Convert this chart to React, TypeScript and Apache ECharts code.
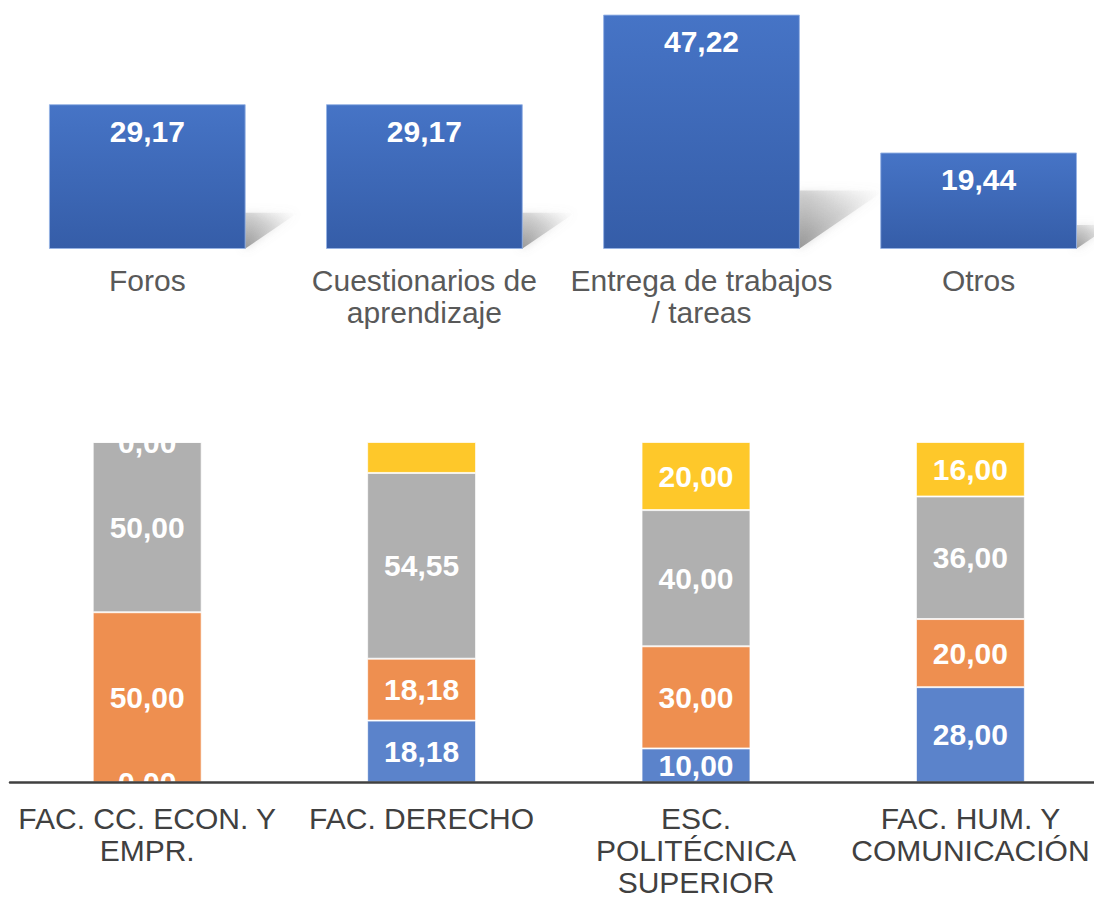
import React, { useEffect, useRef } from "react";
import * as echarts from "echarts";

// ---- Top chart data ----
const TOP_CATEGORIES = ["Foros", "Cuestionarios de\naprendizaje", "Entrega de trabajos\n/ tareas", "Otros"];
const TOP_VALUES = [29.17, 29.17, 47.22, 19.44];

// ---- Bottom chart data ----
const FACULTIES = ["FAC. CC. ECON. Y\nEMPR.", "FAC. DERECHO", "ESC.\nPOLITÉCNICA\nSUPERIOR", "FAC. HUM. Y\nCOMUNICACIÓN"];
const SEG_BLUE = [0, 18.18, 10, 28];
const SEG_ORANGE = [50, 18.18, 30, 20];
const SEG_GRAY = [50, 54.55, 40, 36];
const SEG_YELLOW = [0, 9.09, 20, 16];
const YELLOW_LABEL_SHOWN = [true, false, true, true];

const FONT = "'Liberation Sans', Arial, Helvetica, sans-serif";
const fmt = (v: number) => v.toFixed(2).replace(".", ",");

const TOP_BAR_RATIO = 0.71;
const BOTTOM_BAR_RATIO = 0.397;

export default function App() {
  const ref = useRef<HTMLDivElement>(null);

  useEffect(() => {
    if (!ref.current) return;
    const chart = echarts.init(ref.current, undefined, { renderer: "svg" });

    const segLabel = {
      show: true,
      position: "inside" as const,
      color: "#ffffff",
      fontFamily: FONT,
      fontSize: 30,
      fontWeight: "bold" as const,
      formatter: (p: any) => fmt(p.value),
    };
    const segItem = (color: string) => ({
      color,
      borderColor: "rgba(255,255,255,0.7)",
      borderWidth: 1,
    });

    const option: any = {
      animation: false,
      backgroundColor: "#ffffff",
      grid: [
        { left: 8.75, top: 0.8, width: 1108.4, height: 248.2, outerBoundsMode: "none", containLabel: false },
        { left: 10, top: 442, width: 1097.6, height: 340.5, outerBoundsMode: "none", containLabel: false },
      ],
      xAxis: [
        {
          type: "category",
          gridIndex: 0,
          data: TOP_CATEGORIES,
          axisLine: { show: false },
          axisTick: { show: false },
          splitLine: { show: false },
          axisLabel: {
            interval: 0,
            color: "#595959",
            fontFamily: FONT,
            fontSize: 30,
            lineHeight: 32,
            margin: 15,
          },
        },
        {
          type: "category",
          gridIndex: 1,
          data: FACULTIES,
          z: 20,
          axisLine: { show: true, lineStyle: { color: "#404040", width: 2.5 } },
          axisTick: { show: false },
          splitLine: { show: false },
          axisLabel: {
            interval: 0,
            color: "#404040",
            fontFamily: FONT,
            fontSize: 30,
            lineHeight: 32,
            margin: 19.5,
          },
        },
      ],
      yAxis: [
        { type: "value", gridIndex: 0, min: 0, max: 50, show: false },
        { type: "value", gridIndex: 1, min: 0, max: 100, show: false },
      ],
      series: [
        // Perspective shadow behind top bars
        {
          type: "custom",
          xAxisIndex: 0,
          yAxisIndex: 0,
          z: 1,
          silent: true,
          data: TOP_VALUES.map((v, i) => [i, v]),
          encode: { x: 0, y: 1 },
          renderItem: (params: any, api: any) => {
            const idx = api.value(0);
            const base = api.coord([idx, 0]);
            const top = api.coord([idx, api.value(1)]);
            const bw = api.size([1, 0])[0] * TOP_BAR_RATIO;
            const xr = base[0] + bw / 2;
            const h = base[1] - top[1];
            const dx = h * 0.36;
            const dy = h * 0.25;
            return {
              type: "polygon",
              shape: {
                points: [
                  [xr - 1, base[1]],
                  [xr + dx, base[1] - dy],
                  [xr - 1, base[1] - dy],
                ],
              },
              style: {
                fill: new echarts.graphic.LinearGradient(0, 1, 1, 0, [
                  { offset: 0, color: "rgba(120,120,120,0.75)" },
                  { offset: 0.55, color: "rgba(170,170,170,0.4)" },
                  { offset: 1, color: "rgba(220,220,220,0)" },
                ]),
                shadowBlur: 8,
                shadowColor: "rgba(150,150,150,0.5)",
              },
            };
          },
        },
        {
          type: "bar",
          xAxisIndex: 0,
          yAxisIndex: 0,
          z: 2,
          barWidth: TOP_BAR_RATIO * 100 + "%",
          data: TOP_VALUES,
          itemStyle: {
            color: new echarts.graphic.LinearGradient(0, 0, 0, 1, [
              { offset: 0, color: "#4674C6" },
              { offset: 1, color: "#355DA8" },
            ]),
            borderColor: "rgba(150,178,228,0.9)",
            borderWidth: 1,
          },
          label: {
            show: true,
            position: "insideTop",
            distance: 12,
            color: "#ffffff",
            fontFamily: FONT,
            fontSize: 30,
            fontWeight: "bold",
            formatter: (p: any) => fmt(p.value),
          },
        },
        // Bottom stacked bars
        {
          name: "Azul",
          type: "bar",
          stack: "total",
          xAxisIndex: 1,
          yAxisIndex: 1,
          barWidth: BOTTOM_BAR_RATIO * 100 + "%",
          data: SEG_BLUE,
          itemStyle: segItem("#5B83CB"),
          label: segLabel,
        },
        {
          name: "Naranja",
          type: "bar",
          stack: "total",
          xAxisIndex: 1,
          yAxisIndex: 1,
          barWidth: BOTTOM_BAR_RATIO * 100 + "%",
          data: SEG_ORANGE,
          itemStyle: segItem("#EE8F50"),
          label: segLabel,
        },
        {
          name: "Gris",
          type: "bar",
          stack: "total",
          xAxisIndex: 1,
          yAxisIndex: 1,
          barWidth: BOTTOM_BAR_RATIO * 100 + "%",
          data: SEG_GRAY,
          itemStyle: segItem("#B0B0B0"),
          label: segLabel,
        },
        {
          name: "Amarillo",
          type: "bar",
          stack: "total",
          xAxisIndex: 1,
          yAxisIndex: 1,
          barWidth: BOTTOM_BAR_RATIO * 100 + "%",
          data: SEG_YELLOW.map((v, i) => ({ value: v, label: { show: YELLOW_LABEL_SHOWN[i] } })),
          itemStyle: segItem("#FEC82A"),
          label: segLabel,
        },
        // White masks clipping labels outside the plot area (as in the source)
        {
          type: "custom",
          xAxisIndex: 1,
          yAxisIndex: 1,
          z: 10,
          silent: true,
          data: FACULTIES.map((_, i) => [i, 100]),
          encode: { x: 0, y: 1 },
          renderItem: (params: any, api: any) => {
            const idx = api.value(0);
            const b = api.coord([idx, 0]);
            const t = api.coord([idx, 100]);
            const w = api.size([1, 0])[0] * 0.5;
            return {
              type: "group",
              children: [
                {
                  type: "rect",
                  shape: { x: t[0] - w / 2, y: t[1] - 26, width: w, height: 25.6 },
                  style: { fill: "#ffffff" },
                },
                {
                  type: "rect",
                  shape: { x: b[0] - w / 2, y: b[1] + 1, width: w, height: 14 },
                  style: { fill: "#ffffff" },
                },
              ],
            };
          },
        },
      ],
    };

    chart.setOption(option);
    return () => chart.dispose();
  }, []);

  return (
    <div
      ref={ref}
      style={{ position: "absolute", left: 0, top: 0, width: 1094, height: 898, background: "#fff" }}
    />
  );
}
